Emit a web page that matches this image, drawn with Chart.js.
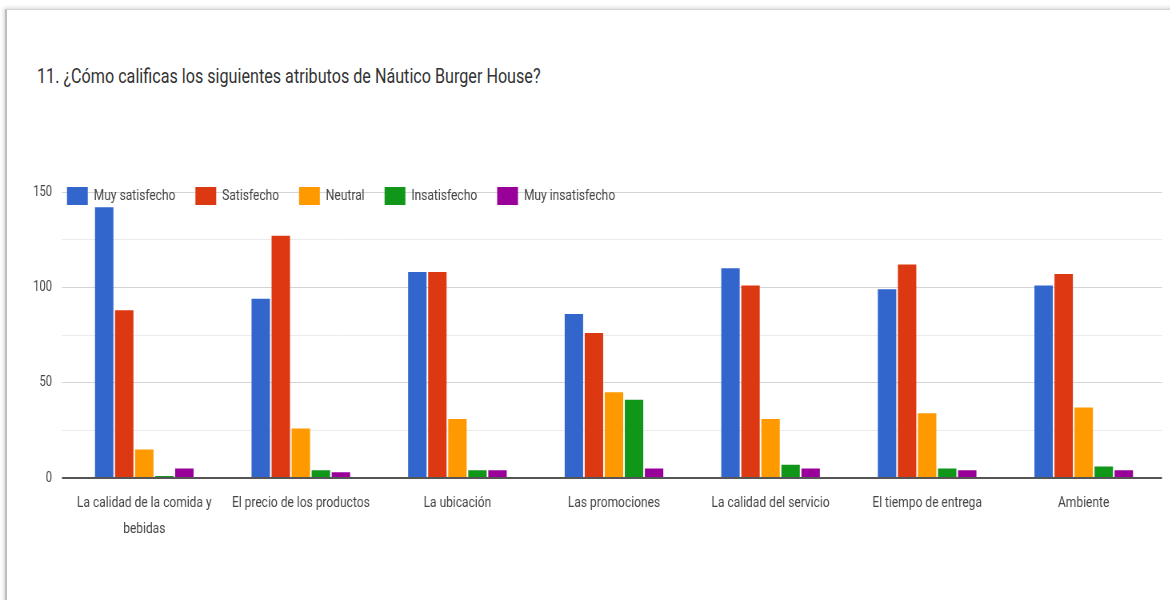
<!DOCTYPE html>
<html>
<head>
<meta charset="utf-8">
<script src="https://cdn.jsdelivr.net/npm/chart.js@4"></script>
<style>
  body { margin: 0; background: #fff; width: 1170px; height: 600px; overflow: hidden; position: relative; }
  #frame {
    position: absolute; left: 5px; top: 9px; width: 1200px; height: 700px;
    border-left: 2px solid #bdbdbd; border-top: 1px solid #d6d6d6;
    box-shadow: -1px -1px 4px rgba(0,0,0,0.18);
  }
  #title {
    position: absolute; left: 37px; top: 66px; white-space: nowrap;
    font-family: Roboto, sans-serif; font-size: 20.2px; line-height: 1; color: #333;
    transform: scaleX(0.8); transform-origin: 0 0;
  }
  #chart { position: absolute; left: 0; top: 0; transform: scaleX(0.8); transform-origin: 0 0; }
</style>
</head>
<body>
<div id="frame"></div>
<div id="title">11. ¿Cómo calificas los siguientes atributos de Náutico Burger House?</div>
<canvas id="chart" width="1463" height="600"></canvas>
<script>
// datos
const categorias = [
  ["La calidad de la comida y", "bebidas"],
  "El precio de los productos",
  "La ubicación",
  "Las promociones",
  "La calidad del servicio",
  "El tiempo de entrega",
  "Ambiente",
];
const muySatisfecho = [142, 94, 108, 86, 110, 99, 101];
const satisfecho = [88, 127, 108, 76, 101, 112, 107];
const neutral = [15, 26, 31, 45, 31, 34, 37];
const insatisfecho = [1, 4, 4, 41, 7, 5, 6];
const muyInsatisfecho = [5, 3, 4, 5, 5, 4, 4];
const yTicks = [0, 50, 100, 150];

// el canvas esta comprimido en x (0.8) para imitar el texto estrecho
const sx = 0.8;

// mueve la leyenda dentro del area del grafico, como en Google Forms
const moverLeyenda = {
  id: "moverLeyenda",
  afterLayout(chart) {
    const lg = chart.legend;
    const pad = lg.options.labels.padding;
    const dx = 67 / sx - (lg.left + pad);
    lg.left += dx; lg.right += dx;
    // la leyenda se recorta a su caja, asi que se agranda aqui
    lg.top = 187 - pad;
    lg.bottom = 187 + 30;
  },
};

const ctx = document.getElementById("chart").getContext("2d");
new Chart(ctx, {
  type: "bar",
  data: {
    labels: categorias,
    datasets: [
      { label: "Muy satisfecho", data: muySatisfecho, backgroundColor: "#3366cc" },
      { label: "Satisfecho", data: satisfecho, backgroundColor: "#dc3912" },
      { label: "Neutral", data: neutral, backgroundColor: "#ff9900" },
      { label: "Insatisfecho", data: insatisfecho, backgroundColor: "#109618" },
      { label: "Muy insatisfecho", data: muyInsatisfecho, backgroundColor: "#990099" },
    ],
  },
  options: {
    responsive: false,
    animation: false,
    borderWidth: 0,
    categoryPercentage: 0.64,
    barPercentage: 0.92,
    layout: { padding: { left: 0, right: 10.5, top: 191, bottom: 0 } },
    plugins: {
      tooltip: { enabled: false },
      legend: {
        position: "top",
        align: "start",
        maxHeight: 1,
        labels: {
          boxWidth: 26,
          boxHeight: 18,
          padding: 25,
          color: "#444",
          font: { family: "Roboto", size: 15 },
        },
      },
    },
    scales: {
      x: {
        grid: { display: false },
        border: { display: false },
        ticks: {
          color: "#444",
          padding: 4,
          maxRotation: 0,
          autoSkip: false,
          font: { family: "Roboto", size: 15, lineHeight: 1.73 },
        },
        afterFit: (s) => { s.height = 122; },
      },
      y: {
        min: 0,
        max: 150,
        border: { display: false },
        grid: {
          z: -1,
          tickLength: 5,
          color: (c) => c.tick.value === 0 ? "#555" : (c.tick.value % 50 === 0 ? "#d4d4d4" : "#ebebeb"),
          lineWidth: (c) => c.tick.value === 0 ? 2 : 1,
        },
        ticks: {
          stepSize: 25,
          padding: 12.5,
          color: "#444",
          font: { family: "Roboto", size: 14 },
          callback: (v) => yTicks.includes(v) ? v : "",
        },
        afterFit: (s) => { s.width = 66 / sx; },
      },
    },
  },
  plugins: [moverLeyenda],
});
</script>
</body>
</html>
